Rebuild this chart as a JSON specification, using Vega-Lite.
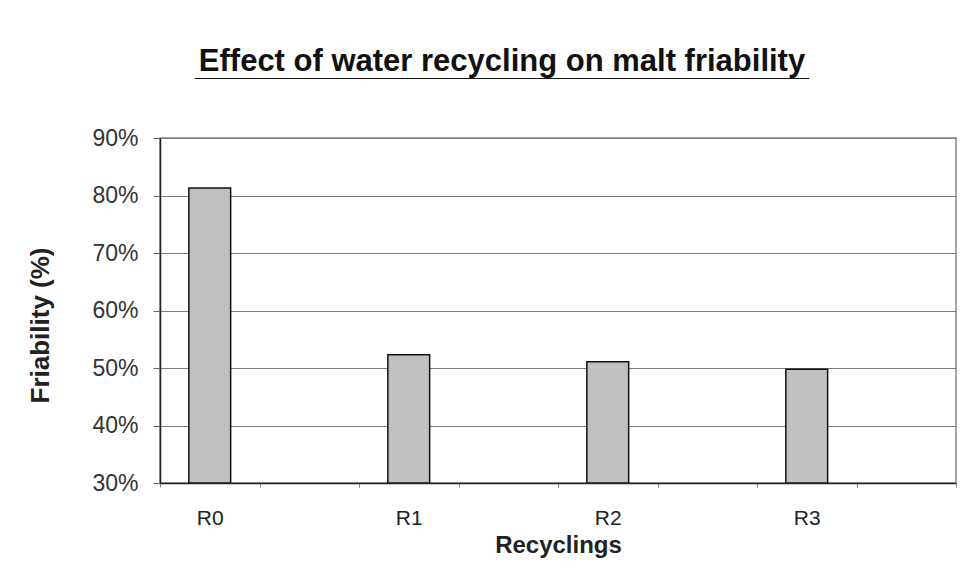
{
  "$schema": "https://vega.github.io/schema/vega-lite/v6.json",
  "width": 796,
  "height": 345,
  "autosize": "none",
  "padding": {"left": 160, "top": 138, "right": 15, "bottom": 86},
  "background": "white",
  "title": {
    "text": "Effect of water recycling on malt friability",
    "subtitle": "______________________________________________",
    "font": "Liberation Sans",
    "fontSize": 31,
    "fontWeight": "bold",
    "color": "#111",
    "subtitleFont": "Liberation Sans",
    "subtitleFontSize": 24,
    "subtitleFontWeight": "bold",
    "subtitleColor": "#111",
    "subtitlePadding": -21,
    "anchor": "middle",
    "dx": -56,
    "offset": 45
  },
  "data": {
    "values": [
      {"recycling": "R0", "friability": 0.813},
      {"recycling": "R1", "friability": 0.523},
      {"recycling": "R2", "friability": 0.511},
      {"recycling": "R3", "friability": 0.498}
    ]
  },
  "mark": {
    "type": "bar",
    "fill": "#c0c0c0",
    "stroke": "#111",
    "strokeWidth": 1.5,
    "width": {"band": 0.42},
    "clip": true
  },
  "encoding": {
    "x": {
      "field": "recycling",
      "type": "nominal",
      "sort": null,
      "scale": {
        "domain": ["R0", "gap0", "R1", "gap1", "R2", "gap2", "R3", "gap3"],
        "paddingInner": 0,
        "paddingOuter": 0
      },
      "axis": {
        "title": "Recyclings",
        "titleFont": "Liberation Sans",
        "titleFontSize": 24,
        "titleFontWeight": "bold",
        "titleColor": "#222",
        "titleBaseline": "top",
        "titleY": 50,
        "labelExpr": "indexof(['R0','R1','R2','R3'], datum.value) >= 0 ? datum.value : ''",
        "labelFont": "Liberation Sans",
        "labelFontSize": 21,
        "labelColor": "#222",
        "labelAngle": 0,
        "labelPadding": 20,
        "labelDx": -10,
        "tickBand": "extent",
        "tickSize": 4,
        "tickColor": "#888",
        "domainColor": "#222",
        "domainWidth": 1.5,
        "grid": false
      }
    },
    "y": {
      "field": "friability",
      "type": "quantitative",
      "scale": {"domain": [0.3, 0.9], "nice": false, "zero": false},
      "axis": {
        "title": "Friability (%)",
        "titleFont": "Liberation Sans",
        "titleFontSize": 26,
        "titleFontWeight": "bold",
        "titleColor": "#222",
        "titleX": -107,
        "titleY": 187,
        "values": [0.3, 0.4, 0.5, 0.6, 0.7, 0.8, 0.9],
        "format": ".0%",
        "labelFont": "Liberation Sans",
        "labelFontSize": 23,
        "labelColor": "#333",
        "labelPadding": 15,
        "tickSize": 7,
        "tickColor": "#666",
        "domainColor": "#222",
        "domainWidth": 1.5,
        "grid": true,
        "gridColor": "#7a7a7a",
        "gridWidth": 1.2
      }
    },
    "y2": {"datum": 0.3}
  },
  "config": {
    "view": {"stroke": "#888", "strokeWidth": 1.5}
  }
}
